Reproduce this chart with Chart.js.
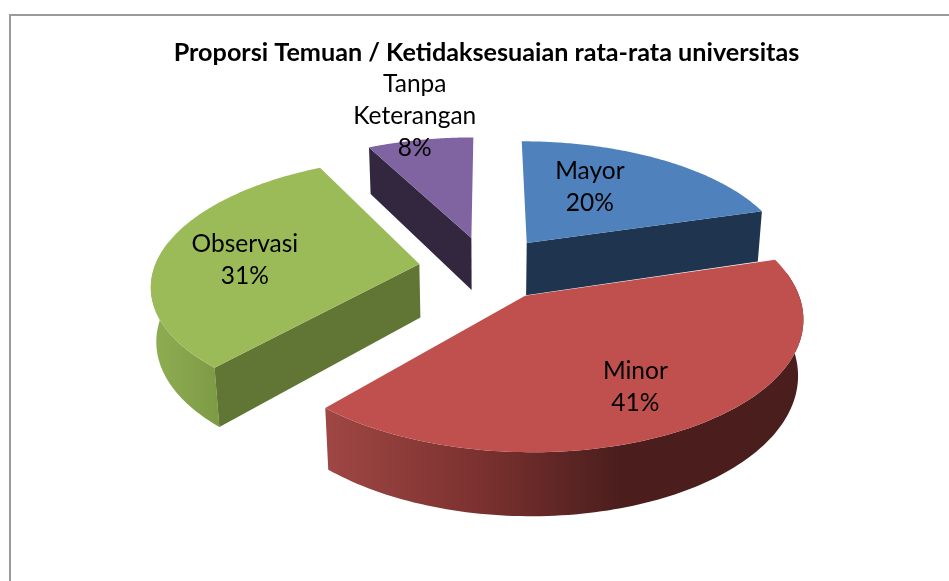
<!DOCTYPE html>
<html>
<head>
<meta charset="utf-8">
<style>html,body{margin:0;padding:0;background:#fff}canvas{display:block}</style>
<script src="https://cdn.jsdelivr.net/npm/chart.js@4"></script>
</head>
<body>
<canvas id="c" width="949" height="581"></canvas>
<script>
const chartTitle = "Proporsi Temuan / Ketidaksesuaian rata-rata universitas";
const categories = ["Mayor", "Minor", "Observasi", "Tanpa Keterangan"];
const values = [20.4, 41.1, 30.9, 7.6];
const labelLines = [["Mayor"], ["Minor"], ["Observasi"], ["Tanpa", "Keterangan"]];
const topColors = ["#4f81bd", "#c0504d", "#9bbb59", "#8064a2"];
const radialWallColors = ["#1f344f", "#4a1e1d", "#617534", "#32273f"];

// Projection of the tilted, exploded pie on to the page
const view = {cx:487, cy:268, a:68.5, b:32, p:0.0385, q:0.0003, depth:54, R:3.87, explode:1};
const paintOrder = [3, 2, 0, 1];
const wallStops = [
  [[0,"#1f344f"],[1,"#1f344f"]],
  [[0,"#9f4744"],[0.33,"#7a312f"],[0.62,"#4b1e1d"],[1,"#4a1e1d"]],
  [[0,"#8fae52"],[0.5,"#86a44c"],[1,"#7c9944"]],
  [[0,"#32273f"],[1,"#32273f"]]
];
const wallGradientSpan = [[520,770],[325,800],[150,222],[370,475]];
const labelFrac = [0.65, 0.65, 0.65, 1.0];
const labelShift = [[-27,0],[2,12],[-7,6],[-5.5,-24]];

function project(x, y, z) {
  const w = 1 + view.p * y;
  return [view.cx + view.a * x / (w + view.q * z), view.cy + (-view.b * y + z) / (w + 0.4 * view.q * z)];
}
function sliceGeom(arc) {
  const s = arc.startAngle + Math.PI / 2, e = arc.endAngle + Math.PI / 2, m = (s + e) / 2;
  return {s, e, m, ox: view.explode * Math.sin(m), oy: view.explode * Math.cos(m)};
}
function rimPoint(g, t, z) {
  return project(g.ox + view.R * Math.sin(t), g.oy + view.R * Math.cos(t), z);
}
function pathOf(ctx, pts, color) {
  ctx.beginPath();
  pts.forEach((p, i) => i ? ctx.lineTo(p[0], p[1]) : ctx.moveTo(p[0], p[1]));
  ctx.closePath();
  ctx.fillStyle = color;
  ctx.fill();
}
const pie3d = {
  id: "pie3d",
  beforeDraw(chart) {
    const ctx = chart.ctx;
    ctx.save();
    ctx.fillStyle = "#fff";
    ctx.fillRect(0, 0, chart.width, chart.height);
    ctx.strokeStyle = "#9a9a9a";
    ctx.lineWidth = 2;
    ctx.beginPath();
    ctx.moveTo(10, chart.height);
    ctx.lineTo(10, 15);
    ctx.lineTo(chart.width, 15);
    ctx.stroke();
    ctx.restore();
  },
  beforeDatasetsDraw(chart) {
    const ctx = chart.ctx, arcs = chart.getDatasetMeta(0).data;
    ctx.save();
    paintOrder.forEach(i => {
      const g = sliceGeom(arcs[i]);
      const apexTop = project(g.ox, g.oy, 0), apexBot = project(g.ox, g.oy, view.depth);
      const topArc = [], rimTop = [], rimBot = [], n = 120;
      let firstRim = null, lastRim = null;
      for (let k = 0; k <= n; k++) {
        const t = g.s + (g.e - g.s) * k / n;
        topArc.push(rimPoint(g, t, 0));
        if (Math.cos(t) < 0.2) {          // only the part of the rim facing the viewer
          rimTop.push(rimPoint(g, t, 0));
          rimBot.push(rimPoint(g, t, view.depth));
        }
      }
      // outer rim wall
      if (rimTop.length > 1) {
        const span = wallGradientSpan[i];
        const grad = ctx.createLinearGradient(span[0], 0, span[1], 0);
        wallStops[i].forEach(st => grad.addColorStop(st[0], st[1]));
        pathOf(ctx, rimTop.concat(rimBot.slice().reverse()), grad);
      }
      // radial walls that face the viewer
      if (Math.sin(g.s) < -1e-6) pathOf(ctx, [apexTop, topArc[0], rimPoint(g, g.s, view.depth), apexBot], radialWallColors[i]);
      if (Math.sin(g.e) > 1e-6) pathOf(ctx, [apexTop, topArc[n], rimPoint(g, g.e, view.depth), apexBot], radialWallColors[i]);
      // top face
      pathOf(ctx, [apexTop].concat(topArc), topColors[i]);
    });
    ctx.restore();
    return false;
  },
  afterDraw(chart) {
    const ctx = chart.ctx, arcs = chart.getDatasetMeta(0).data;
    const total = values.reduce((a, b) => a + b, 0);
    ctx.save();
    ctx.font = '24.5px Lato, sans-serif';
    ctx.fillStyle = "#000";
    ctx.textAlign = "center";
    ctx.textBaseline = "middle";
    arcs.forEach((arc, i) => {
      const g = sliceGeom(arc), r = view.R * labelFrac[i];
      const pos = project(g.ox + r * Math.sin(g.m), g.oy + r * Math.cos(g.m), 0);
      const lines = labelLines[i].concat([Math.round(values[i] / total * 100) + "%"]);
      const lh = 32, y0 = pos[1] + labelShift[i][1] - (lines.length - 1) * lh / 2;
      lines.forEach((t, k) => ctx.fillText(t, pos[0] + labelShift[i][0], y0 + k * lh));
    });
    ctx.restore();
  }
};

new Chart(document.getElementById("c"), {
  type: "pie",
  data: {labels: categories, datasets: [{data: values, backgroundColor: topColors, borderWidth: 0}]},
  options: {
    responsive: false,
    animation: false,
    layout: {padding: {left: 24, top: 38}},
    plugins: {
      legend: {display: false},
      tooltip: {enabled: false},
      title: {display: true, text: chartTitle, color: "#000",
        font: {family: "Lato, sans-serif", size: 25.2, weight: "bold"}, padding: {top: 0, bottom: 0}}
    }
  },
  plugins: [pie3d]
});
</script>
</body>
</html>
